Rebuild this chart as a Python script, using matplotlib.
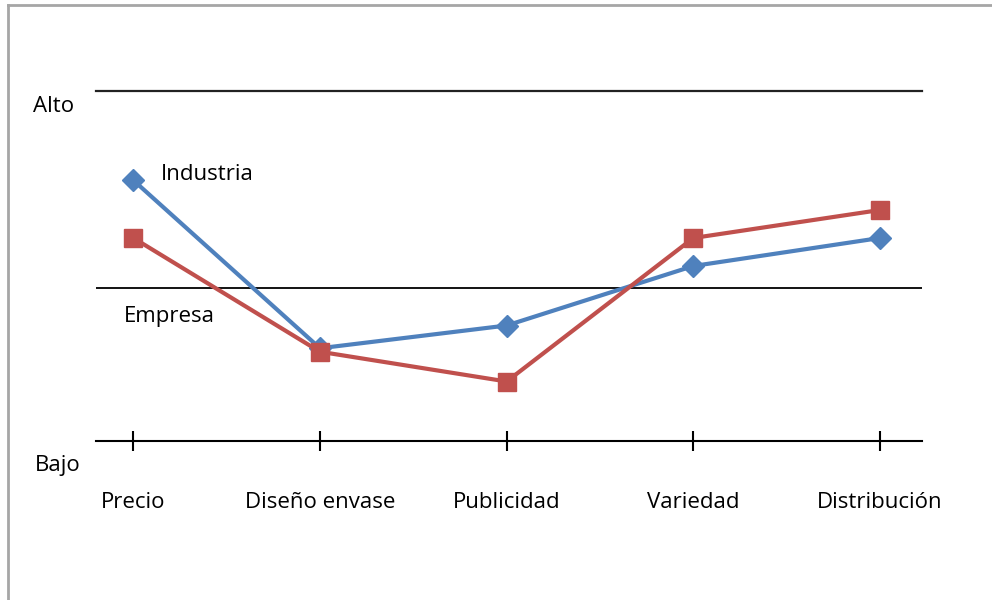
import matplotlib.pyplot as plt
from matplotlib.lines import Line2D

# valores (escala 0 = Bajo ... 10 = Alto)
categorias = ['Precio', 'Diseño envase', 'Publicidad', 'Variedad', 'Distribución']
industria = [7.45, 2.65, 3.3, 5.0, 5.8]
empresa = [5.8, 2.55, 1.7, 5.8, 6.6]
nivel_medio = 4.37
y_min, y_max = 0, 10

plt.rcParams['font.family'] = ['Open Sans', 'DejaVu Sans']
fs = 16

fig = plt.figure(figsize=(9.92, 6.0), dpi=100)
ax = fig.add_axes([96 / 992, 1 - 441 / 600, 826 / 992, 350 / 600])

x = list(range(len(categorias)))
ax.plot(x, industria, color='#4F81BD', lw=3, marker='D', ms=11, zorder=3)
ax.plot(x, empresa, color='#C0504D', lw=3, marker='s', ms=13.5, zorder=4)

ax.axhline(y_max, color='#222222', lw=1.6, zorder=1, clip_on=False)
ax.axhline(nivel_medio, color='black', lw=1.3, zorder=1)

ax.set_xlim(-0.2, 4.225)
ax.set_ylim(y_min, y_max)
for s in ['top', 'right', 'left']:
    ax.spines[s].set_visible(False)
ax.spines['bottom'].set_linewidth(1.5)
ax.set_yticks([])
ax.set_xticks(x)
ax.set_xticklabels(categorias, fontsize=fs)
ax.tick_params(axis='x', direction='inout', length=14, width=1.5, pad=30)

ax.text(-0.54, 9.55, 'Alto', fontsize=fs, va='center', ha='left', clip_on=False)
ax.text(-0.53, -0.7, 'Bajo', fontsize=fs, va='center', ha='left', clip_on=False)
ax.text(0.15, 7.6, 'Industria', fontsize=fs, va='center', ha='left')
ax.text(-0.05, 3.57, 'Empresa', fontsize=fs, va='center', ha='left')

# marco gris del grafico
fig.add_artist(Line2D([8 / 992, 8 / 992], [0, 1 - 5 / 600], color='#A6A6A6', lw=2))
fig.add_artist(Line2D([8 / 992, 1], [1 - 5 / 600, 1 - 5 / 600], color='#A6A6A6', lw=2))

fig.savefig('out.png', dpi=100)
